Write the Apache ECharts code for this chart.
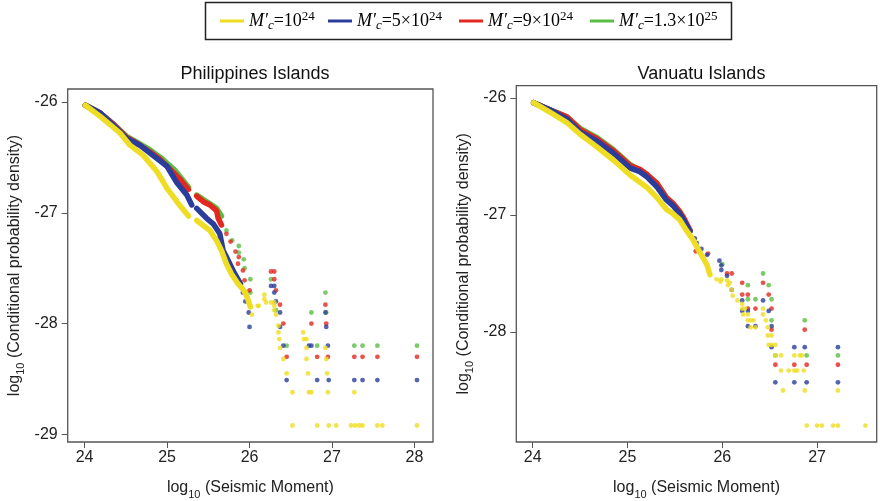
<!DOCTYPE html>
<html><head><meta charset="utf-8">
<script src="https://cdn.jsdelivr.net/npm/echarts@6/dist/echarts.min.js"></script>
<style>html,body{margin:0;padding:0;background:#fff}#c{width:880px;height:501px}</style>
</head><body><div id="c"></div><script>
// ---------- text ----------
const panelTitles = ['Philippines Islands', 'Vanuatu Islands'];
const seriesKeys = ['Mc1', 'Mc2', 'Mc3', 'Mc4'];
const legendLabels = [
  '{m|M′}{c|c}{n|=10}{p|24}',
  '{m|M′}{c|c}{n|=5×10}{p|24}',
  '{m|M′}{c|c}{n|=9×10}{p|24}',
  '{m|M′}{c|c}{n|=1.3×10}{p|25}'
];
const xName = '{n|log}{s|10}{n| (Seismic Moment)}';
const yName = '{n|log}{s|10}{n| (Conditional probability density)}';

// ---------- tick labels ----------
const phXTicks = [24, 25, 26, 27, 28];
const phYTicks = [-29, -28, -27, -26];
const vaXTicks = [24, 25, 26, 27];
const vaYTicks = [-28, -27, -26];

// ---------- Philippines Islands ----------
const phYellowCurve = [[24.01,-26.03],[24.19,-26.13],[24.43,-26.28],[24.55,-26.39],[24.71,-26.48],[24.88,-26.63],[25.0,-26.78],[25.12,-26.90],[25.26,-27.03],[25.31,'-'],[25.36,-27.07],[25.52,-27.16],[25.60,-27.25],[25.66,-27.34],[25.72,-27.46],[25.78,-27.55],[25.86,-27.64],[25.93,-27.70],[25.97,-27.76],[26.01,-27.85]];
const phYellowDots = [[26.01,-27.84],[26.03,-27.92],[26.10,-27.84],[26.11,-27.84],[26.18,-27.74],[26.18,-27.78],[26.20,-27.81],[26.26,-27.81],[26.30,-27.81],[26.30,-27.84],[26.30,-27.88],[26.32,-27.92],[26.35,-28.02],[26.35,-28.08],[26.36,-28.14],[26.37,-28.22],[26.41,-28.32],[26.45,-28.45],[26.52,-28.62],[26.52,-28.92],[26.65,-28.08],[26.66,-28.14],[26.69,-28.14],[26.69,-28.22],[26.69,-28.32],[26.71,-28.45],[26.72,-28.62],[26.75,-28.62],[26.82,-28.92],[26.92,-28.22],[26.93,-28.32],[26.94,-28.45],[26.95,-28.62],[26.96,-28.92],[27.05,-28.92],[27.23,-28.92],[27.27,-28.62],[27.28,-28.92],[27.33,-28.92],[27.37,-28.92],[27.55,-28.92],[27.61,-28.92],[28.03,-28.92]];
const phBlueCurve = [[24.01,-26.03],[24.19,-26.10],[24.35,-26.21],[24.51,-26.33],[24.67,-26.39],[24.79,-26.46],[25.0,-26.58],[25.12,-26.73],[25.24,-26.84],[25.30,-26.93],[25.33,'-'],[25.36,-26.96],[25.48,-27.05],[25.56,-27.10],[25.64,-27.19],[25.68,-27.34],[25.72,-27.40],[25.76,-27.46],[25.82,-27.55],[25.89,-27.64]];
const phBlueDots = [[25.92,-27.72],[25.95,-27.80],[25.99,-27.90],[26.0,-28.03],[26.26,-27.66],[26.30,-27.66],[26.30,-27.72],[26.32,-27.80],[26.37,-27.90],[26.37,-28.03],[26.41,-28.20],[26.45,-28.51],[26.72,-28.20],[26.75,-28.20],[26.82,-28.51],[26.92,-27.90],[26.93,-28.03],[26.95,-28.20],[26.96,-28.51],[27.27,-28.51],[27.37,-28.51],[27.55,-28.51],[28.03,-28.51]];
const phRedCurve = [[24.01,-26.03],[24.19,-26.10],[24.35,-26.20],[24.51,-26.32],[24.63,-26.37],[24.79,-26.45],[24.92,-26.52],[25.04,-26.61],[25.16,-26.70],[25.26,-26.79],[25.31,'-'],[25.36,-26.85],[25.44,-26.90],[25.52,-26.93],[25.60,-26.98],[25.62,-27.05],[25.66,-27.11]];
const phRedDots = [[25.72,-27.19],[25.77,-27.26],[25.83,-27.35],[25.87,-27.40],[25.86,-27.46],[25.92,-27.52],[25.94,-27.61],[26.0,-27.70],[26.26,-27.53],[26.30,-27.53],[26.30,-27.60],[26.32,-27.70],[26.37,-27.83],[26.41,-28.00],[26.45,-28.30],[26.75,-28.00],[26.82,-28.30],[26.92,-27.83],[26.93,-28.00],[26.95,-28.30],[27.27,-28.30],[27.37,-28.30],[27.55,-28.30],[28.03,-28.30]];
const phGreenCurve = [[24.01,-26.03],[24.19,-26.10],[24.35,-26.20],[24.51,-26.31],[24.63,-26.36],[24.79,-26.43],[24.92,-26.50],[25.1,-26.62],[25.26,-26.77],[25.31,'-'],[25.36,-26.84],[25.44,-26.88],[25.52,-26.92],[25.60,-26.96],[25.66,-27.03]];
const phGreenDots = [[25.72,-27.16],[25.79,-27.25],[25.87,-27.30],[25.87,-27.36],[25.93,-27.42],[25.94,-27.50],[26.01,-27.60],[26.01,-27.72],[26.26,-27.60],[26.32,-27.88],[26.45,-28.20],[26.75,-27.90],[26.82,-28.20],[26.92,-27.72],[26.93,-27.90],[27.27,-28.20],[27.37,-28.20],[27.55,-28.20],[28.03,-28.20]];

// ---------- Vanuatu Islands ----------
const vaYellowCurve = [[24.01,-26.04],[24.18,-26.12],[24.36,-26.21],[24.50,-26.31],[24.68,-26.42],[24.85,-26.53],[25.03,-26.66],[25.20,-26.76],[25.31,-26.85],[25.41,-26.95],[25.48,-26.99],[25.55,-27.04],[25.62,-27.13],[25.69,-27.21],[25.75,-27.30],[25.80,-27.37],[25.84,-27.43],[25.87,-27.51]];
const vaYellowDots = [[25.94,-27.55],[25.99,-27.55],[26.05,-27.56],[26.06,-27.60],[25.98,-27.57],[26.08,-27.58],[26.10,-27.64],[26.11,-27.69],[26.16,-27.73],[26.21,-27.76],[26.21,-27.80],[26.24,-27.80],[26.22,-27.85],[26.27,-27.85],[26.27,-27.90],[26.30,-27.90],[26.33,-27.90],[26.30,-27.96],[26.35,-27.96],[26.43,-27.80],[26.43,-27.85],[26.46,-27.90],[26.48,-27.96],[26.48,-28.03],[26.52,-28.03],[26.49,-28.11],[26.52,-28.11],[26.56,-28.11],[26.56,-28.20],[26.62,-28.20],[26.76,-28.20],[26.82,-28.20],[26.84,-28.20],[26.62,-28.33],[26.70,-28.33],[26.76,-28.33],[26.79,-28.33],[26.86,-28.33],[26.64,-28.50],[26.87,-28.50],[27.22,-28.50],[26.89,-28.80],[27.0,-28.80],[27.05,-28.80],[27.17,-28.80],[27.22,-28.80],[27.51,-28.80]];
const vaBlueCurve = [[24.01,-26.04],[24.18,-26.10],[24.36,-26.18],[24.50,-26.29],[24.68,-26.37],[24.85,-26.47],[25.03,-26.60],[25.13,-26.63],[25.20,-26.67],[25.31,-26.76],[25.41,-26.87],[25.48,-26.92],[25.55,-26.99],[25.59,-27.04],[25.66,-27.14]];
const vaBlueDots = [[25.71,-27.20],[25.73,-27.24],[25.78,-27.29],[25.84,-27.34],[25.97,-27.39],[25.99,-27.43],[25.99,-27.47],[26.05,-27.52],[26.10,-27.64],[26.21,-27.73],[26.21,-27.82],[26.27,-27.82],[26.27,-27.95],[26.35,-27.95],[26.43,-27.73],[26.49,-27.82],[26.52,-27.95],[26.52,-28.13],[26.76,-28.13],[26.87,-28.13],[27.22,-28.13],[26.56,-28.43],[26.76,-28.43],[26.89,-28.43],[27.22,-28.43]];
const vaRedCurve = [[24.01,-26.04],[24.18,-26.10],[24.36,-26.16],[24.50,-26.27],[24.68,-26.35],[24.85,-26.45],[25.03,-26.58],[25.13,-26.61],[25.20,-26.65],[25.31,-26.73],[25.41,-26.85],[25.48,-26.90],[25.55,-26.97],[25.59,-27.02],[25.66,-27.13]];
const vaRedDots = [[25.72,-27.31],[25.85,-27.33],[26.05,-27.50],[26.10,-27.50],[26.21,-27.58],[26.21,-27.68],[26.27,-27.68],[26.43,-27.58],[26.49,-27.68],[26.27,-27.80],[26.35,-27.80],[26.52,-27.80],[26.52,-27.98],[26.87,-27.98],[26.56,-28.28],[26.76,-28.28],[26.89,-28.28],[27.22,-28.28]];
const vaGreenCurve = [[24.01,-26.04],[24.18,-26.10],[24.36,-26.16],[24.50,-26.26],[24.68,-26.34],[24.85,-26.44],[25.03,-26.57],[25.20,-26.65],[25.31,-26.73],[25.41,-26.85],[25.55,-26.97],[25.58,-27.03]];
const vaGreenDots = [[25.58,-27.03],[26.0,-27.42],[26.27,-27.60],[26.43,-27.50],[26.49,-27.60],[26.27,-27.72],[26.35,-27.72],[26.52,-27.72],[26.52,-27.90],[26.87,-27.90],[26.56,-28.20],[26.89,-28.20],[27.22,-28.20]];

// ---------- build ----------
const colors = ['#EEDD22', '#2B3D9B', '#E2281F', '#5BBE44'];
const panels = [
  [[phYellowCurve, phYellowDots], [phBlueCurve, phBlueDots], [phRedCurve, phRedDots], [phGreenCurve, phGreenDots]],
  [[vaYellowCurve, vaYellowDots], [vaBlueCurve, vaBlueDots], [vaRedCurve, vaRedDots], [vaGreenCurve, vaGreenDots]]
];
const series = [];
panels.forEach((panel, p) => {
  [3, 2, 1, 0].forEach(k => {
    const [curve, dots] = panel[k];
    series.push({
      type: 'line', name: seriesKeys[k], xAxisIndex: p, yAxisIndex: p,
      data: curve, showSymbol: false, symbol: 'none', connectNulls: false,
      color: colors[k], lineStyle: { color: colors[k], width: 5.5, cap: 'round', join: 'round' },
      silent: true, animation: false
    });
    series.push({
      type: 'scatter', name: seriesKeys[k], xAxisIndex: p, yAxisIndex: p,
      data: dots, symbolSize: 4.8, color: colors[k],
      itemStyle: { color: colors[k] }, silent: true, animation: false
    });
  });
});

const fontSans = 'Liberation Sans';
const nameRich = {
  n: { fontFamily: fontSans, fontSize: 16, color: '#222', lineHeight: 24 },
  s: { fontFamily: fontSans, fontSize: 11, color: '#222', lineHeight: 11, verticalAlign: 'bottom' }
};
function xAxis(idx, min, max, ticks) {
  return {
    type: 'value', gridIndex: idx, min: min, max: max,
    axisLine: { show: false },
    axisTick: { show: true, length: 6, customValues: ticks, lineStyle: { color: '#555', width: 1 } },
    axisLabel: { customValues: ticks, fontSize: 16, color: '#222', margin: 8, fontFamily: fontSans },
    splitLine: { show: false },
    name: xName, nameLocation: 'middle', nameGap: 34,
    nameTextStyle: { rich: nameRich }
  };
}
function yAxis(idx, min, max, ticks) {
  return {
    type: 'value', gridIndex: idx, min: min, max: max,
    axisLine: { show: false },
    axisTick: { show: true, length: 6, customValues: ticks, lineStyle: { color: '#555', width: 1 } },
    axisLabel: { customValues: ticks, fontSize: 16, color: '#222', margin: 10, fontFamily: fontSans },
    splitLine: { show: false },
    name: yName, nameLocation: 'middle', nameGap: 41, nameRotate: 90,
    nameTextStyle: { rich: nameRich }
  };
}

const legendRich = {
  m: { fontFamily: 'Liberation Serif', fontStyle: 'italic', fontSize: 18, lineHeight: 22, color: '#000' },
  c: { fontFamily: 'Liberation Serif', fontStyle: 'italic', fontSize: 13, lineHeight: 12, verticalAlign: 'bottom', color: '#000' },
  n: { fontFamily: 'Liberation Serif', fontSize: 18, lineHeight: 22, color: '#000' },
  p: { fontFamily: 'Liberation Serif', fontSize: 13, lineHeight: 12, verticalAlign: 'top', color: '#000' }
};
const legendLefts = [220, 328, 459, 590];
const legends = seriesKeys.map((key, i) => ({
  data: [{ name: key, icon: 'rect' }],
  left: legendLefts[i], top: 10, padding: 0,
  itemWidth: 24, itemHeight: 3, itemGap: 0,
  selectedMode: false,
  formatter: () => legendLabels[i],
  textStyle: { rich: legendRich }
}));

const gridBase = { show: true, borderColor: '#555', borderWidth: 1.3, backgroundColor: 'transparent', containLabel: false, outerBoundsMode: 'none' };
const option = {
  backgroundColor: '#fff',
  animation: false,
  title: [
    { text: panelTitles[0], left: 250, top: 60, textAlign: 'center', textStyle: { fontFamily: fontSans, fontSize: 18, fontWeight: 'normal', color: '#111' } },
    { text: panelTitles[1], left: 696.5, top: 60, textAlign: 'center', textStyle: { fontFamily: fontSans, fontSize: 18, fontWeight: 'normal', color: '#111' } }
  ],
  legend: legends,
  graphic: [{
    type: 'rect', shape: { x: 205.5, y: 2.5, width: 526, height: 37 },
    style: { fill: 'none', stroke: '#222', lineWidth: 1.5 }, silent: true
  }],
  grid: [
    Object.assign({ left: 67.7, top: 89, width: 365.3, height: 353 }, gridBase),
    Object.assign({ left: 516.3, top: 85.7, width: 360.4, height: 356.3 }, gridBase)
  ],
  xAxis: [xAxis(0, 23.796, 28.224, phXTicks), xAxis(1, 23.827, 27.629, vaXTicks)],
  yAxis: [yAxis(0, -29.069, -25.883, phYTicks), yAxis(1, -28.94, -25.895, vaYTicks)],
  series: series
};
const chart = echarts.init(document.getElementById('c'), null, { renderer: 'canvas' });
chart.setOption(option);
</script></body></html>
